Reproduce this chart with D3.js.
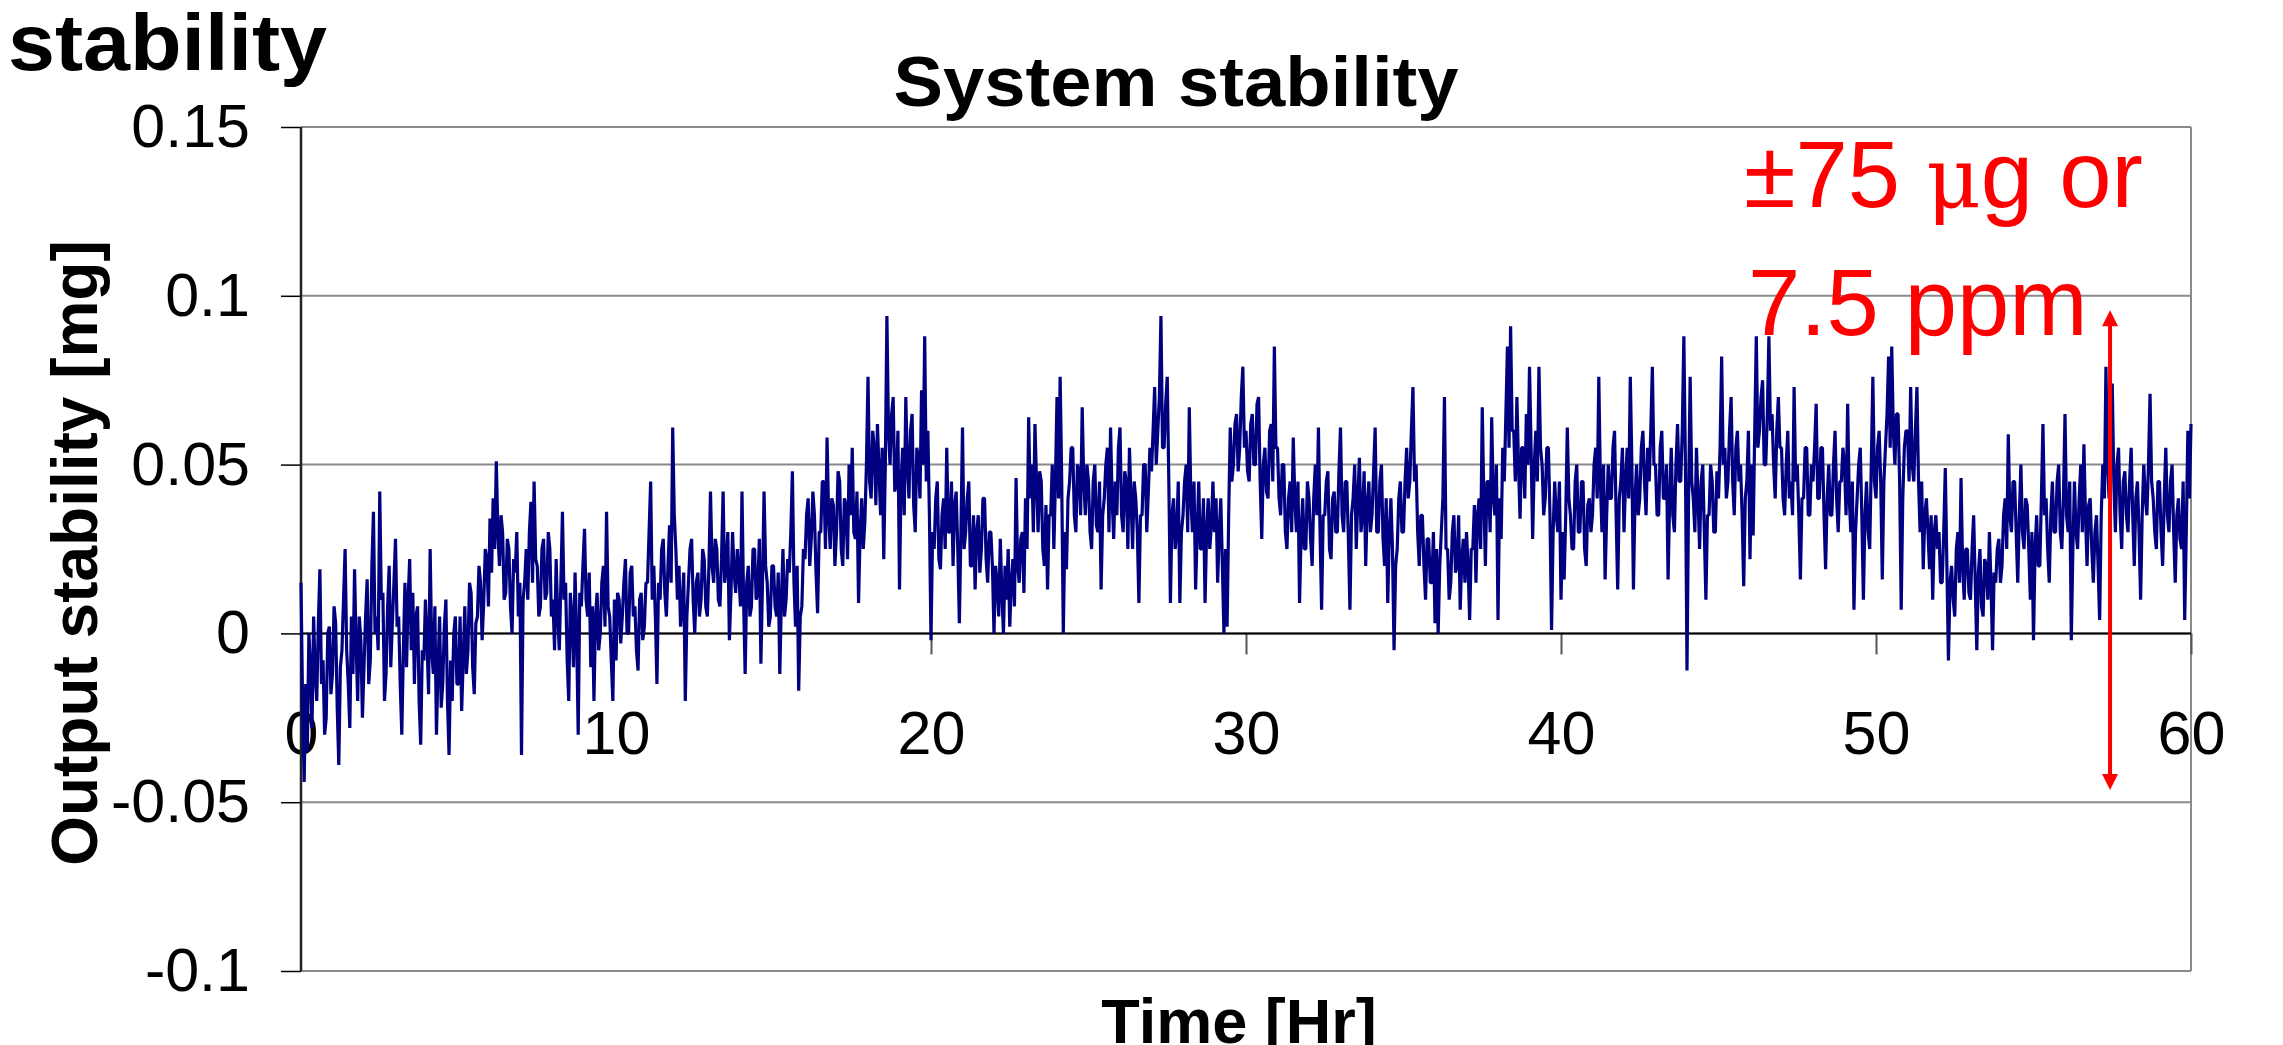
<!DOCTYPE html>
<html>
<head>
<meta charset="utf-8">
<script src="https://cdnjs.cloudflare.com/ajax/libs/d3/7.8.5/d3.min.js"></script>
<style>
  body { margin: 0; background: #fff; }
  svg { display: block; font-family: "Liberation Sans", Arial, sans-serif; }
</style>
</head>
<body>
<div id="chart"></div>
<script>
// Output stability in micrograms, one reading every 0.05 hr (one row per hour)
var stepHr = 0.05;
var hours0to10 = [
  15, -20, -44, -15, -35, 0, -10, -28, 5, -12, -20, 3, 19, -15, -8, -30, -25, 0, 2, -18,
  -12, 8, 3, -22, -39, -10, -5, 10, 25, -5, -15, -28, 5, -12, 19, -3, -20, 5, -2, -25,
  -10, 5, 16, -15, -8, 20, 36, 0, 5, -5, 42, 10, 12, -20, -12, 8, 20, -10, 3, 15,
  28, 2, 5, -15, -30, -5, 15, -10, 10, 22, -5, 12, -15, 5, 8, -20, -33, -5, -8, 10,
  -2, -18, 25, -5, -12, 8, -30, -10, 5, -22, -15, 2, 10, -20, -36, -8, -20, 0, 5, -15,
  -15, 5, -23, -8, 8, -12, -5, 15, 12, -10, -18, 3, 5, 20, 15, -2, 9, 25, 22, 8,
  34, 18, 40, 25, 51, 30, 20, 35, 30, 10, 12, 28, 25, 8, 0, 22, 18, 30, 5, 15,
  -36, 10, 15, 25, 10, 30, 39, 15, 45, 22, 20, 5, 8, 25, 28, 10, 12, 30, 25, 5,
  10, -5, 22, 5, -5, 15, 36, 10, 15, -8, -20, 12, 5, -10, 18, 0, -30, 12, 8, 20,
  31, 10, 5, 18, -10, 8, -20, 5, 12, -5, 0, 15, 20, 2, 36, 8, 5, -8, -20, 10
];
var hours10to20 = [
  -8, 12, 10, -3, 5, 15, 22, 0, 0, 18, 20, 5, 8, -5, -11, 10, 12, -2, 2, 15,
  15, 30, 45, 10, 20, 5, -15, 15, 10, 25, 28, 12, 5, 20, 32, 15, 61, 35, 25, 10,
  20, 2, 8, 18, -20, 5, 15, 25, 28, 10, 0, 15, 18, 5, 10, 25, 22, 8, 5, 20,
  42, 20, 15, 28, 25, 10, 8, 22, 42, 15, 20, 30, -2, 12, 30, 18, 12, 25, 18, 8,
  42, 10, -12, 15, 20, 5, 8, 25, 25, 10, 12, 28, -9, 15, 42, 20, 15, 2, 5, 20,
  20, 8, 5, 18, -12, 10, 25, 5, 10, 22, 18, 30, 48, 15, 2, 20, -17, 5, 8, 25,
  22, 35, 40, 20, 28, 42, 35, 18, 6, 30, 30, 45, 45, 25, 58, 35, 25, 40, 38, 20,
  30, 48, 45, 25, 20, 40, 38, 22, 50, 35, 55, 30, 28, 42, 9, 30, 40, 25, 33, 50,
  76, 45, 40, 60, 55, 38, 62, 48, 35, 55, 22, 50, 94, 60, 50, 65, 70, 42, 45, 60,
  13, 45, 55, 35, 70, 50, 40, 60, 65, 38, 30, 55, 52, 40, 72, 50, 88, 45, 60, 35
];
var hours20to30 = [
  -2, 30, 25, 40, 45, 22, 19, 35, 40, 25, 55, 30, 30, 45, 20, 38, 42, 25, 3, 30,
  61, 25, 30, 40, 45, 20, 20, 35, 13, 30, 35, 18, 25, 40, 40, 22, 15, 30, 30, 20,
  0, 20, 15, 5, 28, 12, 0, 20, 10, 25, 2, 15, 22, 8, 46, 20, 15, 28, 30, 12,
  40, 25, 64, 40, 50, 30, 62, 45, 30, 48, 45, 25, 20, 38, 13, 35, 35, 50, 25, 45,
  70, 40, 76, 45, 0, 30, 19, 40, 45, 55, 55, 35, 30, 50, 48, 35, 67, 45, 35, 50,
  45, 30, 25, 45, 50, 32, 30, 45, 13, 35, 40, 50, 55, 30, 61, 40, 28, 45, 35, 55,
  61, 35, 30, 48, 45, 25, 55, 40, 25, 45, 40, 30, 9, 35, 35, 50, 50, 30, 42, 55,
  48, 60, 73, 50, 60, 70, 94, 55, 55, 68, 76, 45, 9, 35, 40, 25, 30, 45, 9, 30,
  35, 45, 50, 30, 67, 40, 30, 45, 13, 30, 45, 25, 25, 40, 9, 30, 40, 25, 32, 45,
  30, 40, 15, 30, 40, 20, 0, 25, 2, 35, 61, 45, 50, 62, 65, 48, 55, 70, 79, 55
];
var hours30to40 = [
  60, 48, 45, 62, 65, 50, 50, 68, 70, 45, 28, 50, 55, 42, 40, 60, 62, 45, 85, 55,
  55, 40, 35, 50, 50, 30, 25, 40, 45, 30, 58, 40, 30, 45, 9, 30, 40, 25, 25, 45,
  40, 28, 20, 40, 50, 35, 61, 30, 7, 35, 35, 45, 48, 25, 22, 40, 42, 30, 30, 48,
  61, 35, 30, 45, 45, 28, 7, 35, 40, 50, 25, 40, 52, 30, 35, 48, 20, 38, 45, 30,
  35, 48, 61, 30, 30, 45, 50, 28, 20, 40, 9, 30, 40, 25, -5, 20, 25, 40, 45, 30,
  30, 45, 55, 40, 45, 60, 73, 45, 50, 30, 20, 35, 35, 20, 10, 28, 28, 15, 15, 30,
  3, 25, 0, 20, 30, 40, 70, 25, 25, 10, 15, 30, 35, 18, 20, 35, 7, 22, 28, 15,
  30, 20, 4, 25, 25, 38, 15, 35, 40, 25, 67, 40, 20, 45, 45, 30, 64, 40, 35, 50,
  4, 40, 28, 55, 45, 65, 85, 55, 91, 60, 60, 45, 70, 50, 34, 55, 55, 40, 65, 50,
  79, 55, 28, 50, 60, 45, 79, 55, 50, 35, 40, 55, 55, 35, 1, 30, 45, 35, 30, 45
];
var hours40to50 = [
  10, 30, 16, 35, 61, 40, 35, 25, 25, 45, 50, 30, 30, 45, 45, 25, 20, 38, 40, 30,
  35, 50, 55, 40, 76, 45, 30, 50, 16, 35, 50, 40, 40, 55, 60, 35, 13, 40, 45, 55,
  30, 45, 55, 40, 76, 50, 13, 40, 50, 35, 40, 55, 60, 45, 35, 55, 45, 60, 79, 50,
  50, 35, 35, 55, 60, 40, 40, 50, 16, 40, 55, 35, 30, 50, 62, 45, 45, 60, 88, 50,
  -11, 40, 76, 45, 40, 30, 55, 40, 25, 45, 50, 30, 10, 35, 35, 50, 45, 30, 30, 48,
  40, 55, 82, 50, 55, 40, 45, 60, 70, 45, 35, 55, 60, 45, 50, 35, 14, 40, 45, 60,
  22, 50, 29, 60, 88, 55, 60, 70, 75, 50, 50, 65, 88, 60, 65, 50, 40, 60, 70, 55,
  55, 40, 35, 50, 60, 40, 45, 35, 73, 45, 50, 35, 16, 40, 40, 55, 55, 35, 35, 50,
  45, 55, 68, 40, 40, 55, 55, 35, 19, 40, 50, 35, 35, 50, 60, 40, 30, 45, 45, 55,
  50, 35, 68, 40, 30, 45, 7, 30, 40, 50, 55, 35, 10, 35, 45, 30, 25, 50, 76, 45
];
var hours50to60 = [
  40, 55, 60, 45, 16, 45, 55, 65, 82, 55, 85, 60, 50, 65, 65, 45, 7, 40, 55, 60,
  60, 45, 73, 50, 45, 60, 73, 45, 30, 45, 19, 35, 40, 30, 19, 35, 10, 30, 35, 25,
  30, 15, 15, 30, 49, 20, -8, 15, 20, 10, 5, 25, 30, 15, 46, 20, 10, 25, 25, 12,
  10, 25, 35, 15, -5, 18, 25, 8, 5, 22, 20, 10, 30, 15, -5, 18, 15, 25, 28, 15,
  20, 35, 40, 25, 59, 35, 30, 45, 45, 30, 15, 35, 50, 30, 25, 40, 38, 25, 10, 30,
  -2, 25, 35, 20, 20, 40, 62, 35, 40, 25, 15, 35, 45, 30, 30, 45, 50, 30, 25, 40,
  65, 35, 30, 45, -2, 25, 45, 30, 25, 40, 50, 30, 56, 35, 20, 38, 40, 25, 15, 30,
  35, 20, 4, 35, 50, 40, 79, 50, 40, 60, 74, 45, 30, 50, 55, 35, 25, 45, 48, 35,
  30, 45, 55, 35, 20, 40, 45, 30, 10, 35, 50, 40, 35, 50, 71, 45, 40, 30, 25, 45,
  45, 30, 20, 40, 55, 35, 30, 45, 50, 30, 15, 35, 40, 28, 25, 45, 4, 30, 60, 40,
  62
];

var xTicks = [0, 10, 20, 30, 40, 50, 60];
var yTicks = [-0.1, -0.05, 0, 0.05, 0.1, 0.15];
var yTickLabels = ["-0.1", "-0.05", "0", "0.05", "0.1", "0.15"];

// the red span marker (hr, mg)
var spanAt = 57.43,
    spanTop = 0.0957,
    spanBottom = -0.0464;

var outputUg = [].concat(hours0to10, hours10to20, hours20to30, hours30to40, hours40to50, hours50to60);

//Chart size and plot area edges
var width = 2283,
    height = 1045,
    plotLeft = 301, plotRight = 2191,
    plotTop = 127, plotBottom = 971;

var svg = d3.select("#chart").append("svg")
    .attr("width", width)
    .attr("height", height);

var x = d3.scaleLinear().domain([0, 60]).range([plotLeft, plotRight]);
var y = d3.scaleLinear().domain([-0.1, 0.15]).range([plotBottom, plotTop]);

//Gridlines and plot border
svg.append("g").selectAll("line.grid")
    .data(yTicks).enter().append("line")
    .attr("class", "grid")
    .attr("x1", plotLeft).attr("x2", plotRight)
    .attr("y1", function(d) { return y(d); })
    .attr("y2", function(d) { return y(d); })
    .style("stroke", "#8a8a8a")
    .style("stroke-width", 2);

svg.append("line")
    .attr("x1", plotRight).attr("x2", plotRight)
    .attr("y1", plotTop).attr("y2", plotBottom)
    .style("stroke", "#8a8a8a")
    .style("stroke-width", 2);

//Y axis
var yAxis = d3.axisLeft(y)
    .tickValues(yTicks)
    .tickSize(20)
    .tickPadding(31)
    .tickFormat(function(d, i) { return yTickLabels[i]; });

var yg = svg.append("g")
    .attr("transform", "translate(" + plotLeft + ",0)")
    .call(yAxis);
yg.select(".domain").remove();
yg.selectAll(".tick line").style("stroke", "#000").style("stroke-width", 1.5);
yg.selectAll(".tick text")
    .style("font-size", "61px")
    .style("font-family", "Liberation Sans, Arial, sans-serif")
    .style("fill", "#000");

//X axis crossing at zero
var xAxis = d3.axisBottom(x)
    .tickValues(xTicks)
    .tickSize(21)
    .tickPadding(56)
    .tickFormat(d3.format("d"));

var xg = svg.append("g")
    .attr("transform", "translate(0," + y(0) + ")")
    .call(xAxis);
xg.select(".domain").remove();
xg.selectAll(".tick line").style("stroke", "#555").style("stroke-width", 2);
xg.selectAll(".tick text")
    .style("font-size", "61px")
    .style("font-family", "Liberation Sans, Arial, sans-serif")
    .style("fill", "#000");

svg.append("line")
    .attr("x1", plotLeft).attr("x2", plotRight)
    .attr("y1", y(0)).attr("y2", y(0))
    .style("stroke", "#000")
    .style("stroke-width", 2);

svg.append("line")
    .attr("x1", plotLeft).attr("x2", plotLeft)
    .attr("y1", plotTop).attr("y2", plotBottom)
    .style("stroke", "#222")
    .style("stroke-width", 2.5);

//The trace
var line = d3.line()
    .x(function(d, i) { return x(i * stepHr); })
    .y(function(d) { return y(d / 1000); });

svg.append("path")
    .datum(outputUg)
    .attr("d", line)
    .style("fill", "none")
    .style("stroke", "#000080")
    .style("stroke-width", 3.2)
    .style("stroke-linejoin", "bevel");

//Red span arrow
var ax = x(spanAt), aTop = y(spanTop), aBot = y(spanBottom);
svg.append("line")
    .attr("x1", ax).attr("x2", ax)
    .attr("y1", aTop + 10).attr("y2", aBot - 10)
    .style("stroke", "#ff0000")
    .style("stroke-width", 4);
svg.append("path")
    .attr("d", "M" + ax + "," + aTop + "L" + (ax - 8) + "," + (aTop + 16) + "L" + (ax + 8) + "," + (aTop + 16) + "Z")
    .style("fill", "#ff0000");
svg.append("path")
    .attr("d", "M" + ax + "," + aBot + "L" + (ax - 8) + "," + (aBot - 16) + "L" + (ax + 8) + "," + (aBot - 16) + "Z")
    .style("fill", "#ff0000");

var note1 = svg.append("text")
    .attr("x", 1744).attr("y", 207)
    .style("font-size", "94px")
    .style("fill", "#ff0000");
note1.append("tspan").text("\u00b175 ");
note1.append("tspan").style("font-family", "DejaVu Serif, serif").style("font-size", "84px").text("\u03bc");
note1.append("tspan").text("g or");

svg.append("text")
    .attr("x", 1748).attr("y", 335)
    .style("font-size", "94px")
    .style("fill", "#ff0000")
    .text("7.5 ppm");

//Titles
svg.append("text")
    .attr("x", 8).attr("y", 70)
    .style("font-size", "80px")
    .style("font-weight", "bold")
    .attr("textLength", 319)
    .attr("lengthAdjust", "spacingAndGlyphs")
    .text("stability");

svg.append("text")
    .attr("x", 1176).attr("y", 106)
    .attr("text-anchor", "middle")
    .style("font-size", "70px")
    .style("font-weight", "bold")
    .attr("textLength", 565)
    .attr("lengthAdjust", "spacingAndGlyphs")
    .text("System stability");

svg.append("text")
    .attr("transform", "translate(97,553) rotate(-90)")
    .attr("text-anchor", "middle")
    .style("font-size", "64px")
    .style("font-weight", "bold")
    .text("Output stability [mg]");

svg.append("text")
    .attr("x", 1239).attr("y", 1043)
    .attr("text-anchor", "middle")
    .style("font-size", "63px")
    .style("font-weight", "bold")
    .text("Time [Hr]");
</script>
</body>
</html>
